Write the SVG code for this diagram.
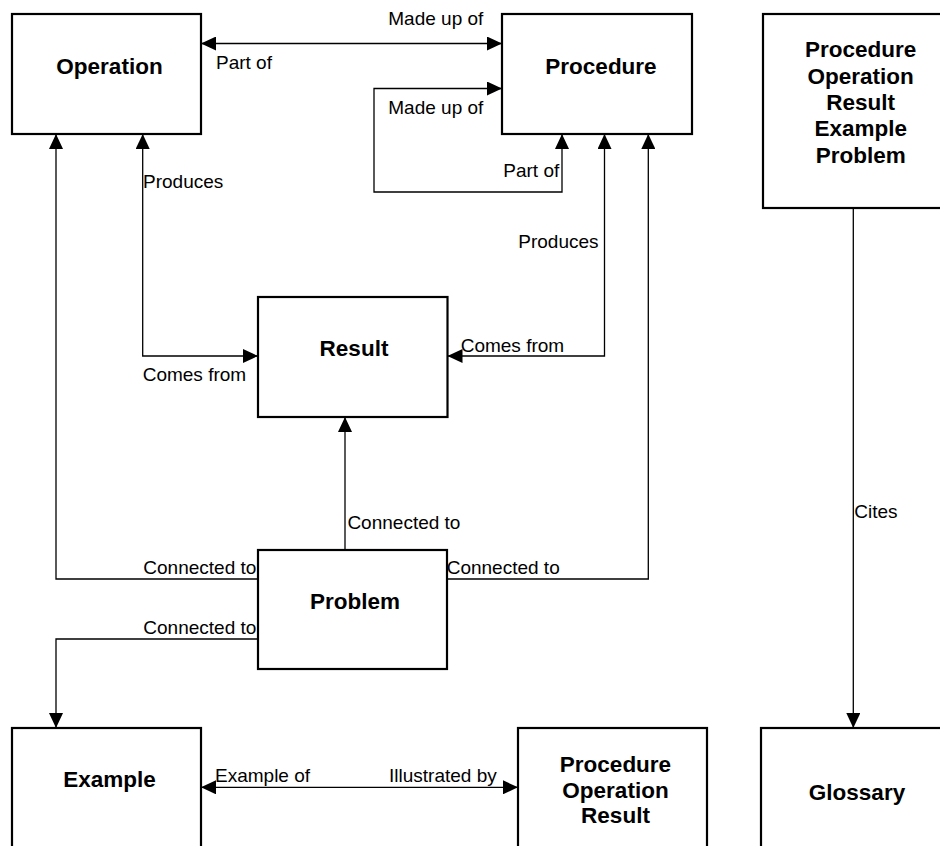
<svg xmlns="http://www.w3.org/2000/svg" width="940" height="846" viewBox="0 0 940 846">
  <style>
    .box { fill: #ffffff; stroke: #000000; stroke-width: 2.2; }
    .title { font-family: "Liberation Sans", Arial, sans-serif; font-weight: bold; font-size: 22.5px; fill: #000000; text-anchor: middle; }
    .lbl { font-family: "Liberation Sans", Arial, sans-serif; font-size: 19px; fill: #000000; }
    .wire { fill: none; stroke: #000000; stroke-width: 1.3; }
    .one { marker-end: url(#head); }
    .two { marker-start: url(#head); marker-end: url(#head); }
  </style>
  <defs>
    <marker id="head" viewBox="0 0 15 14" markerWidth="15" markerHeight="14" refX="15" refY="7" markerUnits="userSpaceOnUse" orient="auto-start-reverse">
      <path d="M0,0 L15,7 L0,14 Z" fill="#000000"/>
    </marker>
  </defs>
  <rect width="940" height="846" fill="#ffffff"/>

  <!-- connectors -->
  <g id="connectors">
    <path class="wire two" d="M201,43.5 H502"/>
    <path class="wire two" d="M562,134 V192 H374 V88.5 H502"/>
    <path class="wire two" d="M142.7,134 V356 H258"/>
    <path class="wire two" d="M604.5,134 V356 H447.5"/>
    <path class="wire one" d="M345,550 V417"/>
    <path class="wire one" d="M258,579 H56 V134"/>
    <path class="wire one" d="M447,579 H648.3 V134"/>
    <path class="wire one" d="M258,639 H56 V728"/>
    <path class="wire two" d="M201,787.3 H518"/>
    <path class="wire one" d="M853.3,208 V728"/>

    <text class="lbl" x="388.3" y="25">Made up of</text>
    <text class="lbl" x="216" y="69">Part of</text>
    <text class="lbl" x="388.3" y="114">Made up of</text>
    <text class="lbl" x="503.3" y="177">Part of</text>
    <text class="lbl" x="143" y="188">Produces</text>
    <text class="lbl" x="518.3" y="248">Produces</text>
    <text class="lbl" x="460.7" y="352">Comes from</text>
    <text class="lbl" x="142.7" y="381">Comes from</text>
    <text class="lbl" x="347.4" y="529.3">Connected to</text>
    <text class="lbl" x="143.3" y="574.3">Connected to</text>
    <text class="lbl" x="446.7" y="574.3">Connected to</text>
    <text class="lbl" x="143.3" y="634">Connected to</text>
    <text class="lbl" x="215" y="782.3">Example of</text>
    <text class="lbl" x="389" y="782.3">Illustrated by</text>
    <text class="lbl" x="854.3" y="517.7">Cites</text>
  </g>

  <!-- nodes -->
  <g id="operation">
    <rect class="box" x="12" y="14" width="189" height="120"/>
    <text class="title" x="109.5" y="74">Operation</text>
  </g>
  <g id="procedure">
    <rect class="box" x="502" y="14" width="190" height="120"/>
    <text class="title" x="601" y="74">Procedure</text>
  </g>
  <g id="glossary-source">
    <rect class="box" x="763" y="14" width="200" height="194"/>
    <text class="title" x="860.7" y="57.3">Procedure</text>
    <text class="title" x="860.7" y="83.6">Operation</text>
    <text class="title" x="860.7" y="110">Result</text>
    <text class="title" x="860.7" y="136.4">Example</text>
    <text class="title" x="860.7" y="162.7">Problem</text>
  </g>
  <g id="result">
    <rect class="box" x="258" y="297" width="189.5" height="120"/>
    <text class="title" x="354" y="355.7">Result</text>
  </g>
  <g id="problem">
    <rect class="box" x="258" y="550" width="189" height="119"/>
    <text class="title" x="355" y="609">Problem</text>
  </g>
  <g id="example">
    <rect class="box" x="12" y="728" width="189" height="140"/>
    <text class="title" x="109.5" y="787.3">Example</text>
  </g>
  <g id="illustrated">
    <rect class="box" x="518" y="728" width="189" height="140"/>
    <text class="title" x="615.5" y="771.7">Procedure</text>
    <text class="title" x="615.5" y="797.6">Operation</text>
    <text class="title" x="615.5" y="823.4">Result</text>
  </g>
  <g id="glossary">
    <rect class="box" x="761" y="728" width="200" height="140"/>
    <text class="title" x="857" y="800">Glossary</text>
  </g>
</svg>
